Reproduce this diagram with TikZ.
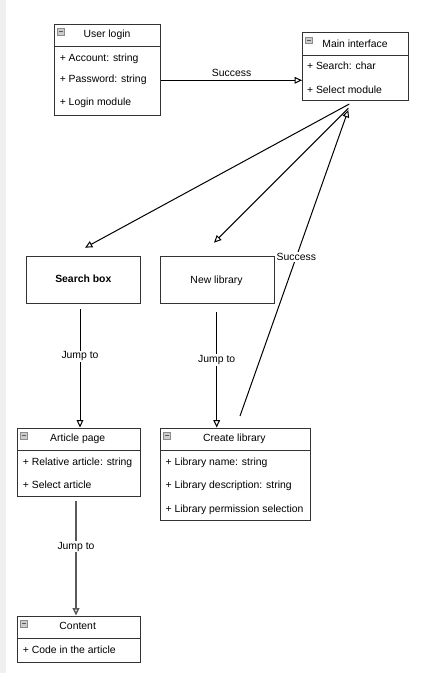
\documentclass[tikz,border=0pt]{standalone}
\usepackage{fontspec}
\setmainfont{Liberation Sans}
\usetikzlibrary{arrows.meta}

\tikzset{
  cls/.style={draw=black!80, line width=0.9pt, fill=white, anchor=north west, inner sep=0pt},
  clsrule/.style={draw=black!80, line width=0.9pt},
  ttl/.style={inner sep=0pt, font=\fontsize{7.8}{9}\selectfont},
  row/.style={anchor=west, inner sep=0pt, font=\fontsize{7.8}{9}\selectfont},
  flow/.style={draw=black, line width=0.75pt, -{Triangle[open,length=5.5pt,width=5pt]}},
  lbl/.style={fill=white, inner sep=0.75pt, font=\fontsize{7.8}{9}\selectfont},
  iconbox/.style={draw=black!45, fill=black!20, line width=0.4pt},
  iconbar/.style={draw=black!65, line width=0.6pt}
}

\begin{document}
\begin{tikzpicture}[x=0.75pt,y=0.75pt,yscale=-1,xscale=1]
\useasboundingbox (0,0) rectangle (448,673);
\fill[black!6] (0,0) rectangle (6,673);

%Shape: Class [User login]
\node[cls, minimum width=79.5pt, minimum height=68.25pt] (login) at (54,23.7) {};
\draw[clsrule] (54,46.7) -- (160,46.7);
\draw[iconbox] (57.5,28.3) rectangle ++(6.5,6.5);
\draw[iconbar] (58.9,31.55) -- ++(3.7,0);
% Text Node
\node[ttl] (login-t) at (107,35) {User login};
\node[row] (login-a) at (59.5,58.4) {+ Account: string};
\node[row] (login-p) at (59.5,80.3) {+ Password: string};
\node[row] (login-m) at (59.5,102.8) {+ Login module};

%Shape: Class [Main interface]
\node[cls, minimum width=79.5pt, minimum height=51pt] (main) at (302,32.3) {};
\draw[clsrule] (302,55.3) -- (408,55.3);
\draw[iconbox] (305.5,37) rectangle ++(6.5,6.5);
\draw[iconbar] (306.9,40.25) -- ++(3.7,0);
% Text Node
\node[ttl] (main-t) at (355,43.6) {Main interface};
\node[row] (main-s) at (306.8,66.2) {+ Search: char};
\node[row] (main-m) at (306.8,89.3) {+ Select module};

%Shape: Rectangle [Search box]
\node[cls, minimum width=85.7pt, minimum height=35pt] (search) at (25.7,256) {};
\node[ttl, font=\fontsize{7.8}{9}\selectfont\bfseries] (search-t) at (83.3,278.5) {Search box};

%Shape: Rectangle [New library]
\node[cls, minimum width=85.5pt, minimum height=35pt] (new) at (160,256) {};
\node[ttl] (new-t) at (216.5,281) {New library};

%Shape: Class [Article page]
\node[cls, minimum width=92.25pt, minimum height=51.2pt] (article) at (17,428) {};
\draw[clsrule] (17,450.7) -- (140,450.7);
\draw[iconbox] (20.5,432.6) rectangle ++(6.5,6.5);
\draw[iconbar] (21.9,435.85) -- ++(3.7,0);
% Text Node
\node[ttl] (article-t) at (77.7,438.6) {Article page};
\node[row] (article-r) at (22.6,462.4) {+ Relative article: string};
\node[row] (article-s) at (22.6,485.2) {+ Select article};

%Shape: Class [Create library]
\node[cls, minimum width=112.7pt, minimum height=68.8pt] (create) at (160,428) {};
\draw[clsrule] (160,450.7) -- (310.3,450.7);
\draw[iconbox] (163.5,432.6) rectangle ++(6.5,6.5);
\draw[iconbar] (164.9,435.85) -- ++(3.7,0);
% Text Node
\node[ttl] (create-t) at (234.3,438.6) {Create library};
\node[row] (create-n) at (165.3,462.4) {+ Library name: string};
\node[row] (create-d) at (165.3,485.4) {+ Library description: string};
\node[row] (create-p) at (165.3,509.4) {+ Library permission selection};

%Shape: Class [Content]
\node[cls, minimum width=92.25pt, minimum height=34.3pt] (content) at (17,616) {};
\draw[clsrule] (17,638.7) -- (140,638.7);
\draw[iconbox] (20.5,620.6) rectangle ++(6.5,6.5);
\draw[iconbar] (21.9,623.85) -- ++(3.7,0);
% Text Node
\node[ttl] (content-t) at (77.7,626.4) {Content};
\node[row] (content-c) at (22.6,650.2) {+ Code in the article};

%Connector ends
\coordinate (main-a) at (349.3,104);
\coordinate (main-b) at (348.3,108.3);
\coordinate (main-c) at (348.3,110);
\coordinate (search-in) at (85,247.7);
\coordinate (new-in) at (214,242.7);
\coordinate (create-out) at (240,416);
\coordinate (search-out) at (80,309);
\coordinate (article-in) at (80,427.5);
\coordinate (new-out) at (216.7,312);
\coordinate (create-in) at (216.7,427.5);
\coordinate (article-out) at (76,501);
\coordinate (content-in) at (76,615.5);

%Straight Lines
\draw[flow] (login.east |- login-p) -- (main.west |- login-p) node[midway, above=2.2pt, inner sep=0pt, font=\fontsize{7.8}{9}\selectfont] (ok-a) {Success};
\draw[flow] (main-a) -- (search-in);
\draw[flow] (main-b) -- (new-in);
\draw[flow] (create-out) -- (main-c) node[lbl, pos=0.52] (ok-b) {Success};
\draw[flow] (search-out) -- (article-in) node[lbl, pos=0.4] (jump-a) {Jump to};
\draw[flow] (new-out) -- (create-in) node[lbl, pos=0.416] (jump-b) {Jump to};
\draw[flow, draw=black!65, line width=1.1pt] (article-out) -- (content-in) node[lbl, pos=0.4] (jump-c) {Jump to};

\end{tikzpicture}
\end{document}
